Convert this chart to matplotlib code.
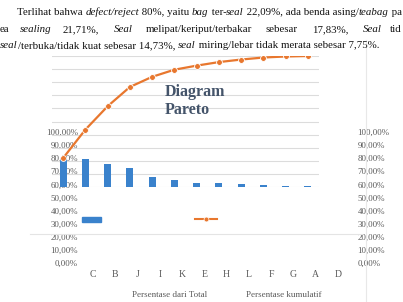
import matplotlib

matplotlib.use("Agg")
import matplotlib.pyplot as plt
from matplotlib.lines import Line2D
from matplotlib.patches import Rectangle

W, H = 403, 302

CATEGORIES = ["C", "B", "J", "I", "K", "E", "H", "L", "F", "G", "A", "D"]
PERSEN_TOTAL = [22.09, 21.71, 17.83, 14.73, 7.75, 5.43, 3.10, 2.71, 1.94, 1.55, 0.78, 0.39]
PERSEN_KUMULATIF = [22.09, 43.80, 61.63, 76.36, 84.11, 89.54, 92.64, 95.35, 97.29, 98.84, 99.62, 100.00]
AXIS_TICKS = list(range(0, 101, 10))

LINE1 = [("Terlihat bahwa ", False), ("defect/reject", True), (" 80%, yaitu ", False), ("bag", True),
         (" ter-", False), ("seal", True), (" 22,09%, ada benda asing/", False), ("teabag", True), (" pa", False)]
LINE2 = [("ea", False, 0), ("sealing", True, 20), ("21,71%,", False, 63), ("Seal", True, 114),
         ("melipat/keriput/terbakar", False, 146), ("sebesar", False, 265), ("17,83%,", False, 312),
         ("Seal", True, 363), ("tid", False, 390)]
LINE3 = [("seal", True), ("/terbuka/tidak kuat sebesar 14,73%, ", False), ("seal", True),
         (" miring/lebar tidak merata sebesar 7,75%.", False)]

BLUE = "#3a82cc"
ORANGE = "#e8772e"
GREY = "#595959"
SERIF = "Liberation Serif"
TXT = 7.85


def fx(px):
    return px / W


def fy(py):
    return 1 - py / H


def px_axes(fig, left, top, right, bottom):
    return fig.add_axes([fx(left), fy(bottom), (right - left) / W, (bottom - top) / H])


def draw_runs(fig, x, y, runs):
    renderer = fig.canvas.get_renderer()
    for s, italic in runs:
        t = fig.text(fx(x), fy(y), s, fontsize=TXT, family=SERIF, va="baseline",
                     style="italic" if italic else "normal", color="#111111")
        x += t.get_window_extent(renderer).width


fig = plt.figure(figsize=(W / 100, H / 100), dpi=100)

# paragraf di atas grafik
draw_runs(fig, 17, 15, LINE1)
for s, italic, x in LINE2:
    fig.text(fx(x), fy(32), s, fontsize=TXT, family=SERIF, va="baseline",
             style="italic" if italic else "normal", color="#111111")
draw_runs(fig, 0, 48, LINE3)

# bingkai samar
fig.add_artist(Line2D([fx(30), fx(362)], [fy(234), fy(234)], color="#e4e4e4", lw=0.8))
fig.add_artist(Line2D([fx(366), fx(366)], [fy(40), fy(302)], color="#e8e8e8", lw=0.8))

# sumbu label (persentase kiri/kanan + kategori)
ax_lab = px_axes(fig, 82, 132, 349, 263)
ax_lab.set_xlim(-0.5, len(CATEGORIES) - 0.5)
ax_lab.set_ylim(0, 100)
ax_lab.set_xticks(range(len(CATEGORIES)))
ax_lab.set_xticklabels(CATEGORIES)
ax_lab.set_yticks(AXIS_TICKS)
ax_lab.set_yticklabels([f"{v},00%" for v in AXIS_TICKS])
ax_lab.tick_params(length=0, labelsize=6.4, labelcolor=GREY, pad=3)
ax_lab.tick_params(axis="x", labelsize=7, pad=5)
for lbl in ax_lab.get_xticklabels() + ax_lab.get_yticklabels():
    lbl.set_family(SERIF)
for sp in ax_lab.spines.values():
    sp.set_visible(False)
ax_lab.patch.set_alpha(0)
ax_r = ax_lab.twinx()
ax_r.set_ylim(0, 100)
ax_r.set_yticks(AXIS_TICKS)
ax_r.set_yticklabels([f"{v},00%" for v in AXIS_TICKS])
ax_r.tick_params(length=0, labelsize=6.4, labelcolor=GREY, pad=6)
for lbl in ax_r.get_yticklabels():
    lbl.set_family(SERIF)
for sp in ax_r.spines.values():
    sp.set_visible(False)

# grafik pareto (bergeser dari labelnya)
ax = px_axes(fig, 52, 56, 319, 187)
x = list(range(len(CATEGORIES)))
ax.set_xlim(-0.5, len(CATEGORIES) - 0.5)
ax.set_ylim(0, 100)
ax.set_yticks(AXIS_TICKS)
ax.grid(axis="y", color="#dcdcdc", lw=0.8)
ax.set_axisbelow(True)
ax.tick_params(length=0, labelleft=False, labelbottom=False)
for sp in ax.spines.values():
    sp.set_visible(False)
ax.patch.set_alpha(0)
ax.bar(x, PERSEN_TOTAL, width=0.32, color=BLUE, zorder=2)
ax.plot(x, PERSEN_KUMULATIF, color=ORANGE, lw=1.6, marker="o", ms=4.2,
        mfc=ORANGE, mec="white", mew=0.6, zorder=3)

fig.text(fx(165), fy(84), "Diagram\nPareto", fontsize=11.5, family=SERIF, weight="bold",
         color="#44546a", va="top", ha="left", linespacing=1.15)

# legenda yang terlepas
fig.add_artist(Rectangle((fx(82), fy(222)), 19 / W, 5 / H, color=BLUE, transform=fig.transFigure))
fig.add_artist(Line2D([fx(195), fx(217)], [fy(219), fy(219)], color=ORANGE, lw=1.5))
fig.add_artist(Line2D([fx(206)], [fy(219)], color=ORANGE, marker="o", ms=3.5, mec="white", mew=0.5))
fig.text(fx(170), fy(295), "Persentase dari Total", fontsize=6.5, family=SERIF, color=GREY,
         ha="center", va="center")
fig.text(fx(284), fy(295), "Persentase kumulatif", fontsize=6.5, family=SERIF, color=GREY,
         ha="center", va="center")

fig.savefig("out.png", dpi=100)
